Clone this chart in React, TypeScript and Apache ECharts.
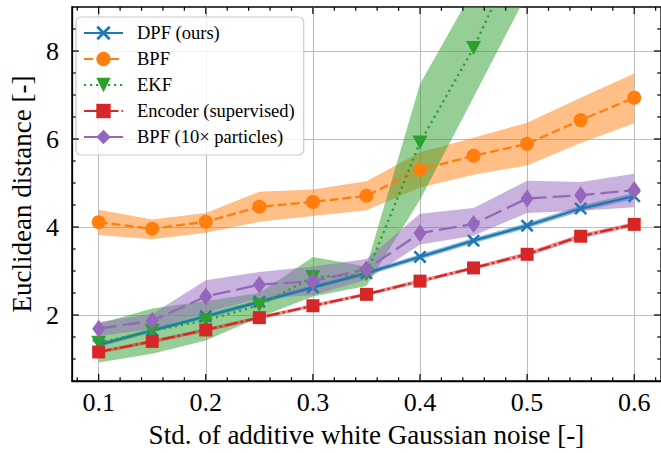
import React, { useEffect, useRef } from "react";
import * as echarts from "echarts";

// ---- data ----
const noiseStd = [0.1, 0.15, 0.2, 0.25, 0.3, 0.35, 0.4, 0.45, 0.5, 0.55, 0.6];

const dpfMean = [1.32, 1.65, 1.97, 2.3, 2.63, 2.95, 3.32, 3.69, 4.03, 4.42, 4.7];
const dpfLower = [1.27, 1.6, 1.92, 2.25, 2.58, 2.9, 3.26, 3.63, 3.97, 4.35, 4.63];
const dpfUpper = [1.37, 1.7, 2.02, 2.35, 2.68, 3.0, 3.38, 3.75, 4.09, 4.49, 4.77];

const bpfMean = [4.11, 3.96, 4.12, 4.46, 4.57, 4.71, 5.3, 5.62, 5.89, 6.43, 6.94];
const bpfLower = [3.82, 3.72, 3.87, 4.12, 4.25, 4.38, 4.9, 5.19, 5.4, 5.91, 6.36];
const bpfUpper = [4.39, 4.17, 4.32, 4.8, 4.85, 5.04, 5.7, 6.03, 6.37, 6.94, 7.49];

const ekfMean = [1.37, 1.64, 1.88, 2.22, 2.86, 2.92, 5.92, 8.07, 10.7, 13.5, 16.5];
const ekfLower = [0.92, 1.12, 1.42, 1.95, 2.42, 2.66, 4.62, 6.95, 9.3, 11.5, 14.0];
const ekfUpper = [1.8, 2.15, 2.32, 2.5, 3.32, 3.1, 7.25, 9.4, 12.1, 15.5, 19.0];

const encMean = [1.16, 1.4, 1.66, 1.94, 2.21, 2.47, 2.77, 3.07, 3.38, 3.79, 4.06];
const encLower = [1.12, 1.36, 1.62, 1.9, 2.17, 2.43, 2.73, 3.03, 3.33, 3.74, 4.01];
const encUpper = [1.2, 1.44, 1.7, 1.98, 2.25, 2.51, 2.81, 3.11, 3.43, 3.84, 4.11];

const bpf10Mean = [1.69, 1.87, 2.42, 2.69, 2.77, 3.04, 3.86, 4.07, 4.65, 4.72, 4.84];
const bpf10Lower = [1.52, 1.68, 2.05, 2.38, 2.45, 2.8, 3.6, 3.8, 4.32, 4.37, 4.45];
const bpf10Upper = [1.84, 2.02, 2.79, 2.98, 3.1, 3.27, 4.3, 4.43, 5.05, 5.02, 5.21];

const seriesNames = [
  "DPF (ours)",
  "BPF",
  "EKF",
  "Encoder (supervised)",
  "BPF (10× particles)",
];

const xMin = 0.075;
const xMax = 0.625;
const yMin = 0.5;
const yMax = 9.0;
const xMajorTicks = [0.1, 0.2, 0.3, 0.4, 0.5, 0.6];
const xMinorTicks = [
  0.08, 0.12, 0.14, 0.16, 0.18, 0.22, 0.24, 0.26, 0.28, 0.32, 0.34, 0.36, 0.38,
  0.42, 0.44, 0.46, 0.48, 0.52, 0.54, 0.56, 0.58, 0.62,
];
const yMajorTicks = [2, 4, 6, 8];
const yMinorTicks = [1, 1.5, 2.5, 3, 3.5, 4.5, 5, 5.5, 6.5, 7, 7.5, 8.5];

// ---- styling ----
const FONT = "'Liberation Serif', 'Times New Roman', serif";
const C_BLUE = "#1f77b4";
const C_ORANGE = "#ff7f0e";
const C_GREEN = "#2ca02c";
const C_RED = "#d62728";
const C_PURPLE = "#9467bd";

const X_SYMBOL =
  "path://M0,1.4L1.4,0L5,3.6L8.6,0L10,1.4L6.4,5L10,8.6L8.6,10L5,6.4L1.4,10L0,8.6L3.6,5Z";
const TRI_DOWN = "path://M0,0L10,0L5,9Z";

function pairs(ys: number[]) {
  return noiseStd.map((x, i) => [x, ys[i]]);
}

function bandSeries(key: string, lower: number[], upper: number[], color: string) {
  return {
    name: key + "-band",
    type: "custom",
    data: noiseStd.map((x, i) => [x, lower[i], upper[i]]),
    silent: true,
    z: 1,
    renderItem: (params: any, api: any) => {
      if (params.dataIndex !== 0) return null;
      const pts: number[][] = [];
      noiseStd.forEach((x, i) => pts.push(api.coord([x, upper[i]])));
      for (let i = noiseStd.length - 1; i >= 0; i--)
        pts.push(api.coord([noiseStd[i], lower[i]]));
      const cs = params.coordSys;
      return {
        type: "group",
        clipPath: {
          type: "rect",
          shape: { x: cs.x, y: cs.y, width: cs.width, height: cs.height },
        },
        children: [
          {
            type: "polygon",
            shape: { points: pts },
            style: { fill: color, opacity: 0.5, stroke: "none" },
          },
        ],
      };
    },
  };
}

function lineSeries(
  name: string,
  ys: number[],
  color: string,
  type: any,
  symbol: string,
  symbolSize: any
) {
  return {
    name,
    type: "line",
    data: pairs(ys),
    z: 3,
    symbol,
    symbolSize,
    showAllSymbol: true,
    lineStyle: { color, width: 2.3, type },
    itemStyle: { color, opacity: 1 },
    emphasis: { disabled: true },
  };
}

export default function App() {
  const ref = useRef<HTMLDivElement>(null);

  useEffect(() => {
    document.body.style.margin = "0";
    const chart = echarts.init(ref.current!, null, { renderer: "svg" });

    const tickSeries = {
      type: "custom",
      name: "ticks",
      data: [[xMin, yMin]],
      clip: false,
      silent: true,
      z: 10,
      renderItem: (_params: any, api: any) => {
        const children: any[] = [];
        const add = (x1: number, y1: number, x2: number, y2: number) =>
          children.push({
            type: "line",
            shape: { x1, y1, x2, y2 },
            style: { stroke: "#000", lineWidth: 1.2 },
          });
        const xt = (vals: number[], len: number) =>
          vals.forEach((v) => {
            const b = api.coord([v, yMin]);
            const t = api.coord([v, yMax]);
            add(b[0], b[1], b[0], b[1] - len);
            add(t[0], t[1], t[0], t[1] + len);
          });
        const yt = (vals: number[], len: number) =>
          vals.forEach((v) => {
            const l = api.coord([xMin, v]);
            const r = api.coord([xMax, v]);
            add(l[0], l[1], l[0] + len, l[1]);
            add(r[0], r[1], r[0] - len, r[1]);
          });
        xt(xMajorTicks, 7);
        xt(xMinorTicks, 3.8);
        yt(yMajorTicks, 7);
        yt(yMinorTicks, 3.8);
        return { type: "group", children };
      },
    };

    const option: any = {
      animation: false,
      backgroundColor: "#fff",
      textStyle: { fontFamily: FONT },
      grid: {
        left: 67,
        top: 7,
        right: -2,
        bottom: 69,
        show: true,
        borderColor: "#000",
        borderWidth: 1.3,
        backgroundColor: "transparent",
      },
      legend: {
        data: seriesNames,
        orient: "vertical",
        left: 76,
        top: 17,
        padding: [6, 9, 8, 7],
        itemWidth: 39,
        itemHeight: 18,
        itemGap: 6,
        backgroundColor: "rgba(255,255,255,0.8)",
        borderColor: "#cccccc",
        borderWidth: 1.2,
        borderRadius: 5,
        textStyle: {
          fontFamily: FONT,
          fontSize: 18.5,
          color: "#000",
          lineHeight: 20,
          padding: [0, 0, 0, 9],
        },
      },
      xAxis: {
        type: "value",
        min: xMin,
        max: xMax,
        splitNumber: 5,
        name: "Std. of additive white Gaussian noise [-]",
        nameLocation: "middle",
        nameGap: 40,
        nameTextStyle: { fontFamily: FONT, fontSize: 27, color: "#000" },
        axisLine: { show: true, onZero: false, lineStyle: { color: "#000", width: 1.3 } },
        axisTick: { show: false },
        axisLabel: {
          fontFamily: FONT,
          fontSize: 26,
          color: "#000",
          margin: 8,
          showMinLabel: false,
          showMaxLabel: false,
          formatter: (v: number) => v.toFixed(1),
        },
        splitLine: {
          show: true,
          showMinLine: false,
          showMaxLine: false,
          lineStyle: { color: "#bdbdbd", width: 1.1 },
        },
      },
      yAxis: {
        type: "value",
        min: yMin,
        max: yMax,
        splitNumber: 5,
        name: "Euclidean distance [-]",
        nameLocation: "middle",
        nameGap: 36,
        nameTextStyle: { fontFamily: FONT, fontSize: 27, color: "#000" },
        axisLine: { show: true, onZero: false, lineStyle: { color: "#000", width: 1.3 } },
        axisTick: { show: false },
        axisLabel: {
          fontFamily: FONT,
          fontSize: 26,
          color: "#000",
          margin: 13,
          showMinLabel: false,
          showMaxLabel: false,
          formatter: (v: number) => String(Math.round(v)),
        },
        splitLine: {
          show: true,
          showMinLine: false,
          showMaxLine: false,
          lineStyle: { color: "#bdbdbd", width: 1.1 },
        },
      },
      series: [
        bandSeries("dpf", dpfLower, dpfUpper, C_BLUE),
        bandSeries("bpf", bpfLower, bpfUpper, C_ORANGE),
        bandSeries("ekf", ekfLower, ekfUpper, C_GREEN),
        bandSeries("enc", encLower, encUpper, C_RED),
        bandSeries("bpf10", bpf10Lower, bpf10Upper, C_PURPLE),
        lineSeries(seriesNames[0], dpfMean, C_BLUE, "solid", X_SYMBOL, 13),
        lineSeries(seriesNames[1], bpfMean, C_ORANGE, [9, 4], "circle", 14),
        lineSeries(seriesNames[2], ekfMean, C_GREEN, [2.2, 3.8], TRI_DOWN, [15, 14]),
        lineSeries(seriesNames[3], encMean, C_RED, [13, 3, 2.5, 3], "rect", 13),
        lineSeries(seriesNames[4], bpf10Mean, C_PURPLE, [18, 6], "diamond", [13, 18]),
        tickSeries,
      ],
    };

    chart.setOption(option);
    return () => chart.dispose();
  }, []);

  return <div ref={ref} style={{ width: 661, height: 453 }} />;
}
